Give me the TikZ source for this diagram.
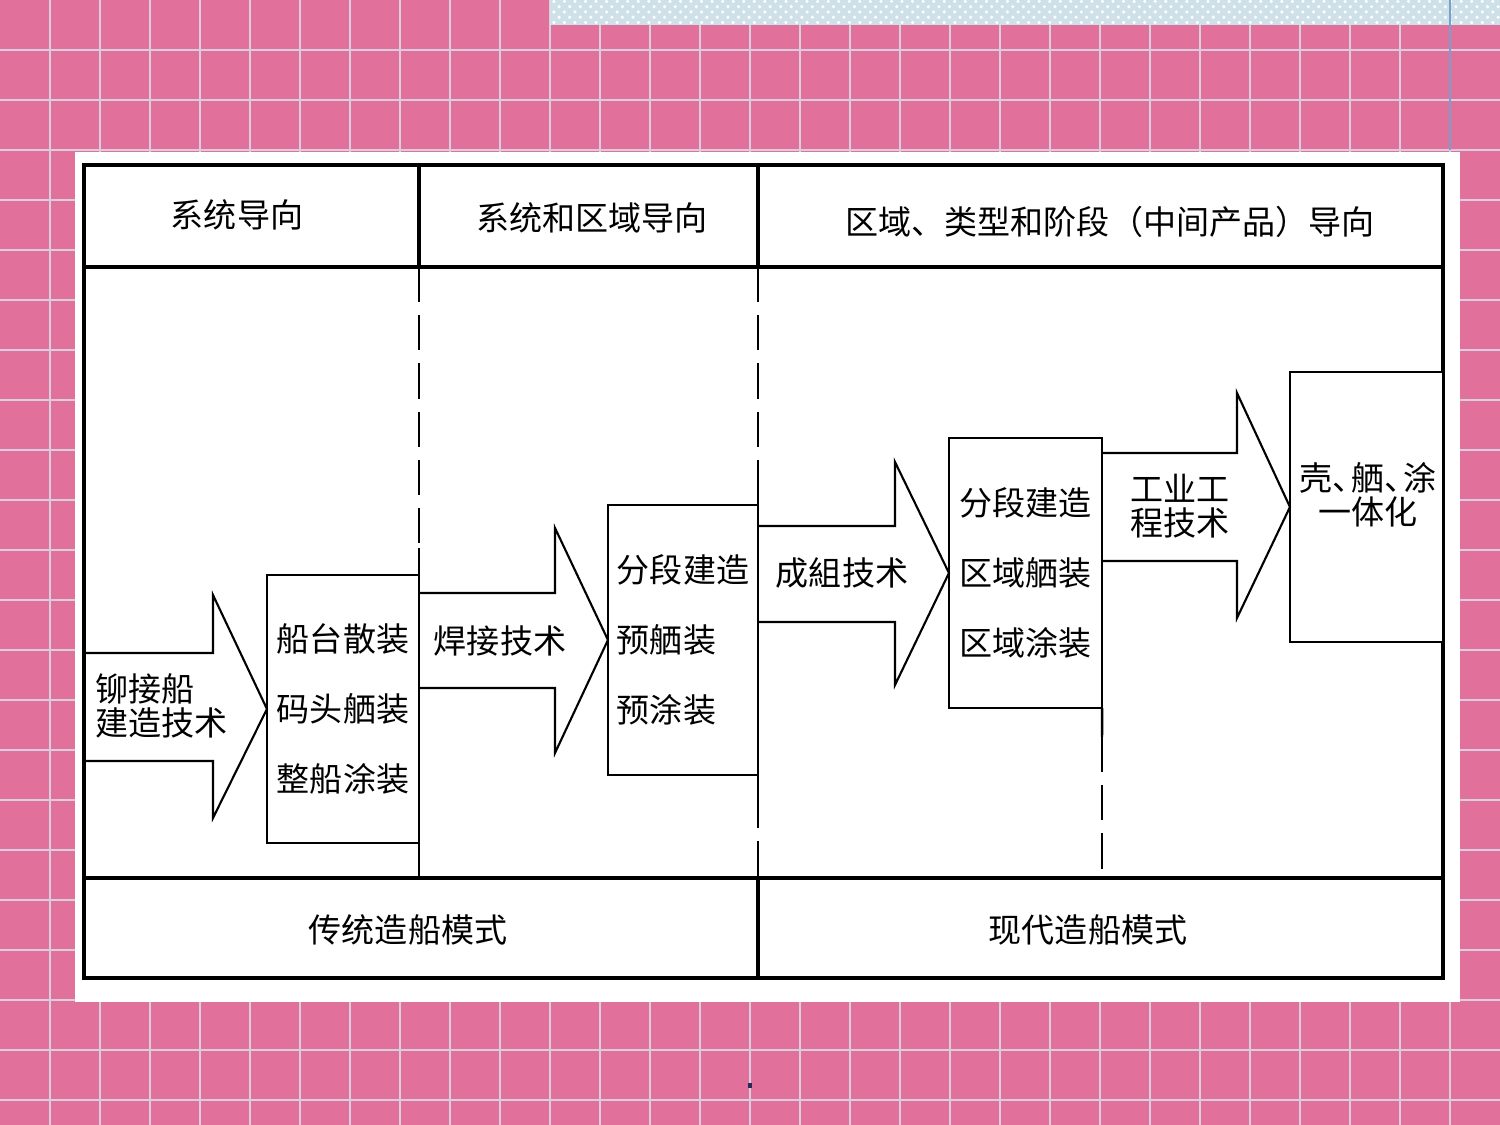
\documentclass[tikz,border=0pt]{standalone}
\usepackage{fontspec}
\newfontfamily\cjk{Noto Sans CJK SC}
\usetikzlibrary{patterns}
\definecolor{pinkbg}{RGB}{225,113,154}
\definecolor{gridcol}{RGB}{216,206,224}
\definecolor{stripcol}{RGB}{206,224,232}
\definecolor{bluerule}{RGB}{120,160,205}
\definecolor{navydot}{RGB}{40,40,90}
\begin{document}
\begin{tikzpicture}[x=0.01cm,y=-0.01cm,
            lbl/.style={font=\cjk\fontsize{9.4}{9.6}\selectfont,inner sep=0pt},
            stagebox/.style={draw,line width=0.7pt,fill=white,inner sep=0pt,outer sep=0pt,align=left,
              font=\cjk\fontsize{9.4}{19.9}\selectfont},
            frame/.style={line width=0.95pt},
            solidline/.style={line width=0.7pt},
            dashline/.style={line width=0.7pt,dash pattern=on 10pt off 3.7pt},
            blockarrow/.style={line width=0.6pt}
        ]
            \useasboundingbox (0,0) rectangle (1500,1125);
            % slide background
            \fill[pinkbg] (0,0) rectangle (1500,1125);
            \foreach \x in {50,100,...,1450} \draw[gridcol,line width=0.55pt] (\x,0) -- (\x,1125);
            \foreach \y in {50,100,...,1100} \draw[gridcol,line width=0.55pt] (0,\y) -- (1500,\y);
            \fill[stripcol] (550,0) rectangle (1500,25);
            \fill[pattern=crosshatch dots,pattern color=white] (550,0) rectangle (1500,25);
            \draw[bluerule,line width=0.4pt] (1450,0) -- (1450,150);
            \fill[navydot] (748,1083) rectangle (752,1088);
            \fill[white] (75,152) rectangle (1460,1002);

            % table frame
            \draw[frame] (84,165) rectangle (1443,978);
            \draw[frame] (84,267) -- (1443,267);
            \draw[frame] (84,878) -- (1443,878);
            \draw[frame] (419,165) -- (419,267);
            \draw[frame] (758,165) -- (758,267);
            \draw[frame] (758,878) -- (758,978);

            \node[lbl] (h1) at (237,215) {系统导向};
            \node[lbl] (h2) at (592,218) {系统和区域导向};
            \node[lbl] (h3) at (1110,222) {区域、类型和阶段（中间产品）导向};
            \node[lbl] (f1) at (408,930) {传统造船模式};
            \node[lbl] (f2) at (1088,930) {现代造船模式};

            % stages
            \node[stagebox,minimum width=1.52cm,minimum height=2.68cm] (b1) at (343,709) {船台散装\\码头舾装\\整船涂装};
            \node[stagebox,minimum width=1.50cm,minimum height=2.70cm] (b2) at (683,640) {分段建造\\预舾装\\预涂装};
            \node[stagebox,minimum width=1.53cm,minimum height=2.70cm] (b3) at (1025.5,573) {分段建造\\区域舾装\\区域涂装};
            \node[stagebox,minimum width=1.53cm,minimum height=2.70cm] (b4) at (1366.5,507) {};
            \node[lbl,align=center] (t5) at (1368,495) {壳、\kern-4pt 舾、\kern-4pt 涂\\一体化};

            % dividers
            \draw[dashline] (419,267) -- (419,548);
            \draw[solidline] (419,548) -- (419,878);
            \draw[dashline] (758,267) -- (758,492);
            \draw[solidline] (758,492) -- (758,793);
            \draw[dashline] (758,793) -- (758,878);
            \draw[solidline] (b3.south east) -- (1102,737);
            \draw[dashline] (1102,737) -- (1102,878);

            % technology arrows
            \draw[blockarrow] (84,653) -- (213,653) -- (213,595) -- (b1.west) -- (213,818) -- (213,761) -- (84,761);
            \draw[blockarrow] (419,593) -- (555,593) -- (555,528) -- (b2.west) -- (555,753) -- (555,688) -- (419,688);
            \draw[blockarrow] (758,526) -- (895,526) -- (895,462) -- (b3.west) -- (895,685) -- (895,622) -- (758,622);
            \draw[blockarrow] (1102,453) -- (1237,453) -- (1237,393) -- (b4.west) -- (1237,618) -- (1237,561) -- (1102,561);

            \node[lbl,anchor=west,align=left] (t1) at (95,706) {铆接船\\建造技术};
            \node[lbl] (t2) at (500,641) {焊接技术};
            \node[lbl] (t3) at (842,573) {成組技术};
            \node[lbl,anchor=west,align=left] (t4) at (1130,506) {工业工\\程技术};
        \end{tikzpicture}
\end{document}
